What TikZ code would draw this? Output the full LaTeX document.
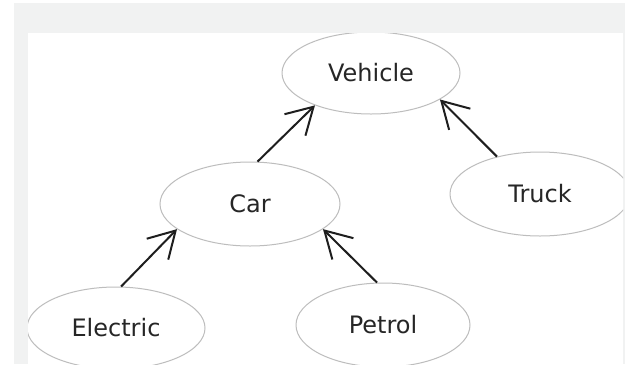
\documentclass[tikz,border=0pt]{standalone}
\usepackage{fontspec}
\setmainfont{DejaVu Sans}
\usetikzlibrary{arrows.meta,shapes.geometric}
\definecolor{bggray}{HTML}{F1F2F2}
\definecolor{edgegray}{HTML}{BDBDBD}
\definecolor{txtgray}{HTML}{262626}
\definecolor{arrowcol}{HTML}{1E1E1E}
\tikzset{
  cls/.style={ellipse, draw=edgegray, line width=1bp, inner sep=0pt,
    text=txtgray, font=\fontsize{24bp}{28bp}\selectfont},
  inherit/.style={draw=arrowcol, line width=2bp,
    -{Straight Barb[length=26bp, width=30bp, line width=2bp]}}
}
\begin{document}
\begin{tikzpicture}[x=1bp, y=-1bp]
\useasboundingbox (0,0) rectangle (625,364);
\fill[bggray] (14,3) rectangle (625,364);
\fill[white] (28,33) rectangle (623,364);
\begin{scope}
\clip (28,33) rectangle (623,364);
\node[cls, minimum width=178bp, minimum height=82bp] (vehicle) at (371,73) {Vehicle};
\node[cls, minimum width=180bp, minimum height=84bp] (car) at (250,204) {Car};
\node[cls, minimum width=180bp, minimum height=84bp] (truck) at (540,194) {Truck};
\node[cls, minimum width=178bp, minimum height=82bp] (electric) at (116,328) {Electric};
\node[cls, minimum width=174bp, minimum height=84bp] (petrol) at (383,325) {Petrol};
\end{scope}
\draw[inherit] (car.80) -- (vehicle.210);
\draw[inherit] (truck.139) -- (vehicle.339);
\draw[inherit] (electric.83) -- (car.199);
\draw[inherit] (petrol.98) -- (car.341);
\end{tikzpicture}
\end{document}
